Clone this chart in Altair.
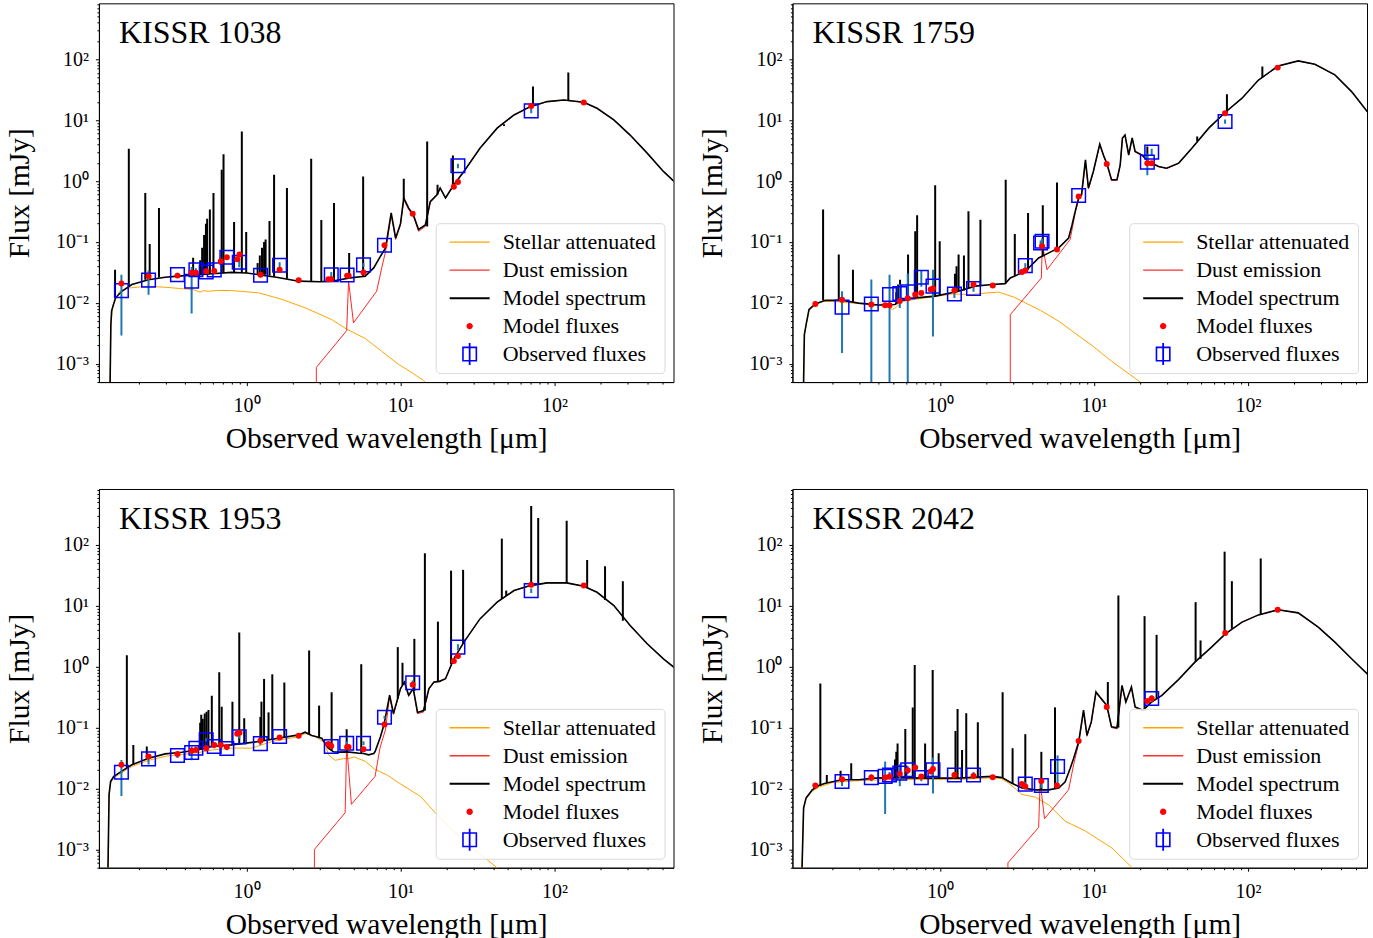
import altair as alt
import pandas as pd

FONT = "Liberation Serif"

NAMES = ["KISSR 1038", "KISSR 1759", "KISSR 1953", "KISSR 2042"]
X_TITLE = "Observed wavelength [μm]"
Y_TITLE = "Flux [mJy]"
X_DOMAIN = [0.11, 593]
Y_DOMAIN = [5e-4, 830]
MANTISSAS = [1, 2, 3, 4, 5, 6, 7, 8, 9]
X_TICKS = [round(m * 10.0 ** e, 6) for e in (-1, 0, 1, 2) for m in MANTISSAS
           if X_DOMAIN[0] <= m * 10.0 ** e <= X_DOMAIN[1]]
Y_TICKS = [round(m * 10.0 ** e, 8) for e in (-4, -3, -2, -1, 0, 1, 2) for m in MANTISSAS
           if Y_DOMAIN[0] <= m * 10.0 ** e <= Y_DOMAIN[1]]
SUPS = [(-3, "10⁻³"), (-2, "10⁻²"), (-1, "10⁻¹"), (0, "10⁰"), (1, "10¹"), (2, "10²")]

LEGEND_NAMES = ["Stellar attenuated", "Dust emission", "Model spectrum", "Model fluxes", "Observed fluxes"]
LEGEND_COLORS = ["#ffa500", "#ff3030", "#000000", "#ff0000", "#0000ff"]
LEGEND_SHAPES = [
    "M-4,-0.14H4V0.14H-4Z",
    "M-4,-0.14H4V0.14H-4Z",
    "M-4,-0.2H4V0.2H-4Z",
    "M0.64,0A0.64,0.64 0 1,1 -0.64,0A0.64,0.64 0 1,1 0.64,0Z",
    "M-1.5,-1.5H1.5V1.5H-1.5Z M-1.18,-1.18V1.18H1.18V-1.18Z M-0.18,-2.2H0.18V2.2H-0.18Z",
]

# ---------------- KISSR 1038 ----------------
P1_SPEC = [(0.130, 0.0005), (0.1315, 0.0044), (0.133, 0.0074), (0.141, 0.0121), (0.155, 0.0155),
           (0.18, 0.020), (0.231, 0.024), (0.296, 0.0263), (0.36, 0.0275), (0.488, 0.029), (0.60, 0.030),
           (0.80, 0.0317), (1.0, 0.031), (1.2, 0.029), (1.6, 0.026), (2.18, 0.0227), (3.0, 0.0222),
           (3.58, 0.0227), (4.7, 0.0257), (5.9, 0.0274), (6.7, 0.0375), (7.4, 0.058), (8.0, 0.08),
           (8.7, 0.30), (9.3, 0.116), (10.0, 0.20), (10.5, 0.526), (11.3, 0.36), (12.1, 0.28), (13.1, 0.16),
           (14.5, 0.19), (15.6, 0.46), (17.3, 0.60), (18.1, 0.77), (19.6, 0.53), (22.2, 0.87), (25.8, 1.44),
           (32.8, 3.47), (42.4, 7.4), (54.6, 12.2), (69.6, 16.7), (89.5, 20.2), (115, 21.5), (155, 19.7),
           (189, 15.7), (243, 10.1), (310, 5.7), (400, 2.88), (510, 1.44), (600, 0.98)]
P1_LINES = [(0.140, 0.012, 0.035), (0.172, 0.019, 3.4), (0.220, 0.024, 0.64), (0.235, 0.024, 0.093),
            (0.270, 0.026, 0.36), (0.450, 0.029, 0.055), (0.500, 0.029, 0.05), (0.515, 0.029, 0.08),
            (0.530, 0.030, 0.13), (0.545, 0.030, 0.20), (0.555, 0.030, 0.24), (0.578, 0.030, 0.34),
            (0.610, 0.030, 0.64), (0.690, 0.031, 1.53), (0.709, 0.031, 2.77), (0.830, 0.032, 0.213),
            (0.932, 0.031, 6.5), (0.995, 0.031, 0.146), (1.18, 0.030, 0.045), (1.22, 0.030, 0.06),
            (1.26, 0.029, 0.08), (1.30, 0.029, 0.10), (1.33, 0.029, 0.11), (1.41, 0.028, 0.22),
            (1.51, 0.027, 1.27), (1.83, 0.025, 0.77), (2.63, 0.0224, 2.32), (3.06, 0.0222, 0.23),
            (3.70, 0.023, 0.435), (4.64, 0.026, 0.066), (5.72, 0.027, 1.19), (10.5, 0.5, 1.09),
            (14.9, 0.18, 4.47), (17.4, 0.6, 0.87), (21.9, 0.85, 2.63), (47.0, 8.0, 8.6),
            (72.5, 17.0, 35.7), (123, 21.5, 60.6)]
P1_STAR = [(0.130, 0.0005), (0.1315, 0.004), (0.135, 0.009), (0.150, 0.0155), (0.170, 0.0175),
           (0.231, 0.0188), (0.300, 0.0180), (0.380, 0.0171), (0.450, 0.0165), (0.500, 0.0150),
           (0.520, 0.0158), (0.566, 0.0155), (0.650, 0.0160), (0.800, 0.0159), (1.00, 0.0152),
           (1.20, 0.0146), (1.70, 0.0114), (2.40, 0.0083), (3.58, 0.0053), (4.47, 0.0037), (5.90, 0.0026),
           (7.55, 0.0016), (9.70, 0.00098), (12.0, 0.0007), (14.1, 0.00053), (15.0, 0.00045)]
P1_DUST = [(2.84, 0.0003), (2.84, 0.00087), (4.47, 0.0035), (4.60, 0.0227), (4.95, 0.0047), (7.00, 0.0155),
           (7.55, 0.0375), (8.0, 0.07), (8.7, 0.28), (9.3, 0.11), (10.0, 0.19), (10.5, 0.50), (11.3, 0.34),
           (12.1, 0.27), (13.1, 0.15), (14.5, 0.18), (15.6, 0.45), (17.3, 0.59), (18.1, 0.76), (19.6, 0.52),
           (22.2, 0.86), (25.8, 1.42), (32.8, 3.45), (42.4, 7.35), (54.6, 12.1), (69.6, 16.6), (89.5, 20.1),
           (115, 21.4), (155, 19.6), (189, 15.6), (243, 10.0), (310, 5.65), (400, 2.86), (510, 1.43),
           (600, 0.97)]
P1_OBS = [(0.154, 0.0159, 0.013), (0.231, 0.0236, 0.010), (0.356, 0.0291, 0.002), (0.440, 0.0227, 0.016),
          (0.469, 0.0350, 0.002), (0.547, 0.0322, 0.002), (0.617, 0.0348, 0.002), (0.745, 0.0560, 0.003),
          (0.897, 0.0465, 0.008), (1.233, 0.0284, 0.002), (1.64, 0.0415, 0.005), (3.55, 0.0290, 0.003),
          (4.50, 0.0287, 0.002), (5.75, 0.0420, 0.003), (7.87, 0.0883, 0.004), (23.6, 1.78, 0.15),
          (70.6, 14.2, 1.2)]
P1_MODEL = [(0.154, 0.0207), (0.231, 0.0274), (0.356, 0.0280), (0.440, 0.0311), (0.469, 0.0311),
            (0.547, 0.0330), (0.617, 0.0335), (0.681, 0.0480), (0.745, 0.0560), (0.870, 0.0520),
            (0.900, 0.0620), (1.233, 0.0290), (1.64, 0.0350), (2.18, 0.0236), (3.40, 0.0245),
            (3.55, 0.0245), (4.50, 0.0280), (4.60, 0.0280), (5.75, 0.0315), (7.87, 0.0880), (12.0, 0.291),
            (22.2, 0.81), (23.6, 0.97), (70.6, 17.1), (155, 19.5)]

# ---------------- KISSR 1759 ----------------
P2_SPEC = [(0.130, 0.0005), (0.1315, 0.003), (0.135, 0.0044), (0.141, 0.0078), (0.155, 0.0096),
           (0.180, 0.0110), (0.231, 0.0110), (0.296, 0.0099), (0.400, 0.0092), (0.510, 0.0094),
           (0.567, 0.0114), (0.727, 0.0122), (0.932, 0.0129), (1.32, 0.0155), (1.69, 0.0188), (2.18, 0.0200),
           (2.65, 0.0207), (2.86, 0.0256), (3.58, 0.0330), (4.37, 0.0547), (4.83, 0.0620), (5.9, 0.080),
           (6.84, 0.116), (7.2, 0.19), (7.55, 0.318), (7.95, 0.53), (8.3, 0.60), (8.8, 2.23), (9.2, 0.77),
           (9.9, 1.44), (10.9, 4.04), (11.6, 2.54), (12.1, 1.97), (13.0, 1.05), (14.1, 1.05), (14.8, 1.85),
           (15.3, 5.1), (15.9, 5.7), (16.8, 2.7), (17.7, 5.1), (18.5, 3.07), (20.4, 2.7), (22.5, 2.1),
           (26.3, 1.74), (29.6, 1.63), (35.5, 1.97), (43.2, 3.47), (55.6, 7.4), (71.3, 13.5), (91.5, 23.0),
           (117, 45.7), (157, 77.6), (212, 94.0), (272, 83.0), (367, 55.4), (471, 29.5), (600, 13.5)]
P2_LINES = [(0.174, 0.011, 0.34), (0.220, 0.011, 0.062), (0.272, 0.010, 0.035), (0.520, 0.0095, 0.015),
            (0.535, 0.010, 0.020), (0.550, 0.011, 0.024), (0.620, 0.0115, 0.062), (0.690, 0.012, 0.15),
            (0.710, 0.012, 0.274), (0.930, 0.0129, 0.85), (0.995, 0.013, 0.103), (1.25, 0.015, 0.03),
            (1.28, 0.015, 0.04), (1.32, 0.0155, 0.062), (1.43, 0.016, 0.060), (1.53, 0.017, 0.318),
            (1.83, 0.019, 0.232), (2.67, 0.021, 1.05), (3.06, 0.028, 0.135), (3.73, 0.035, 0.30),
            (4.65, 0.058, 0.40), (5.75, 0.078, 0.95), (22.2, 2.1, 3.7), (46.8, 4.5, 5.4),
            (73.0, 13.5, 26.7), (124, 50.0, 76.0)]
P2_STAR = [(0.130, 0.0005), (0.1315, 0.003), (0.135, 0.0044), (0.141, 0.0075), (0.155, 0.0093),
           (0.171, 0.0105), (0.200, 0.0106), (0.300, 0.0097), (0.400, 0.0090), (0.450, 0.0088),
           (0.490, 0.0078), (0.520, 0.0085), (0.567, 0.0105), (0.700, 0.0115), (0.900, 0.0125),
           (1.20, 0.0140), (1.61, 0.0137), (2.00, 0.0145), (2.40, 0.0150), (3.00, 0.0125), (3.58, 0.0100),
           (4.50, 0.0075), (5.90, 0.0050), (7.50, 0.0032), (9.70, 0.0020), (13.0, 0.0011), (20.0, 0.0005),
           (21.0, 0.00045)]
P2_DUST = [(2.86, 0.0003), (2.86, 0.0064), (4.55, 0.0256), (4.62, 0.090), (4.95, 0.035), (7.00, 0.110),
           (7.55, 0.30), (7.95, 0.50), (8.3, 0.57), (8.8, 2.1), (9.2, 0.74), (9.9, 1.40), (10.9, 3.95),
           (11.6, 2.50), (12.1, 1.93), (13.0, 1.02), (14.1, 1.03), (14.8, 1.82), (15.3, 5.0), (15.9, 5.6),
           (16.8, 2.65), (17.7, 5.0), (18.5, 3.0), (20.4, 2.65), (22.5, 2.07), (26.3, 1.72), (29.6, 1.61),
           (35.5, 1.95), (43.2, 3.45), (55.6, 7.35), (71.3, 13.4), (91.5, 22.9), (117, 45.5), (157, 77.4),
           (212, 93.8), (272, 82.8), (367, 55.2), (471, 29.4), (600, 13.4)]
P2_OBS = [(0.231, 0.0085, 0.007), (0.358, 0.0096, 0.0146), (0.470, 0.0137, 0.0153), (0.548, 0.0142, 0.006),
          (0.617, 0.0152, 0.0150), (0.756, 0.0264, 0.008), (0.900, 0.0188, 0.0160), (1.24, 0.0140, 0.002),
          (1.65, 0.0172, 0.002), (3.58, 0.0409, 0.004), (4.50, 0.0960, 0.010), (4.60, 0.1030, 0.010),
          (7.95, 0.580, 0.03), (22.2, 2.05, 0.8), (23.7, 2.99, 0.4), (71.0, 9.5, 0.8)]
P2_MODEL = [(0.155, 0.0096), (0.231, 0.0112), (0.358, 0.0094), (0.440, 0.0091), (0.470, 0.0091),
            (0.548, 0.0107), (0.617, 0.0119), (0.690, 0.0137), (0.756, 0.0145), (0.870, 0.0165),
            (0.900, 0.0172), (1.24, 0.0160), (1.65, 0.0200), (2.20, 0.0192), (3.40, 0.0322), (3.58, 0.0340),
            (4.60, 0.085), (5.75, 0.075), (7.95, 0.56), (12.1, 1.90), (22.2, 1.97), (23.7, 1.97),
            (71.0, 13.0), (156, 73.0)]

# ---------------- KISSR 1953 ----------------
P3_SPEC = [(0.126, 0.0005), (0.128, 0.008), (0.131, 0.013), (0.137, 0.0157), (0.154, 0.0191),
           (0.180, 0.0245), (0.231, 0.0314), (0.296, 0.0370), (0.380, 0.0395), (0.488, 0.0433),
           (0.595, 0.0490), (0.800, 0.0520), (1.20, 0.0590), (1.61, 0.0670), (2.18, 0.0760), (2.40, 0.0840),
           (2.65, 0.0740), (3.08, 0.0670), (3.40, 0.0460), (3.67, 0.0400), (3.96, 0.0395), (4.50, 0.0400),
           (5.40, 0.0380), (5.77, 0.0375), (6.20, 0.0357), (6.70, 0.0375), (6.84, 0.0405), (7.40, 0.070),
           (7.80, 0.110), (8.50, 0.340), (9.00, 0.170), (10.0, 0.437), (10.6, 0.560), (11.3, 0.340),
           (12.1, 0.437), (12.9, 0.177), (14.1, 0.190), (15.3, 0.437), (16.5, 0.560), (17.9, 0.575),
           (19.6, 0.636), (22.2, 1.35), (25.8, 2.54), (32.8, 6.10), (42.4, 11.5), (54.6, 17.8), (69.6, 21.5),
           (89.5, 23.8), (120, 23.8), (155, 21.0), (189, 16.7), (243, 10.1), (310, 4.75), (400, 2.38),
           (510, 1.35), (600, 0.97)]
P3_LINES = [(0.167, 0.022, 1.55), (0.184, 0.025, 0.052), (0.225, 0.031, 0.049), (0.500, 0.043, 0.12),
            (0.508, 0.043, 0.162), (0.520, 0.044, 0.14), (0.535, 0.045, 0.17), (0.550, 0.046, 0.183),
            (0.566, 0.047, 0.195), (0.595, 0.049, 0.335), (0.665, 0.050, 0.81), (0.690, 0.050, 0.22),
            (0.810, 0.052, 0.267), (0.897, 0.053, 3.65), (0.966, 0.054, 0.142), (1.23, 0.059, 0.15),
            (1.25, 0.060, 0.267), (1.30, 0.061, 0.63), (1.39, 0.063, 0.178), (1.47, 0.065, 0.75),
            (1.76, 0.070, 0.55), (2.55, 0.078, 1.85), (2.96, 0.070, 0.23), (3.57, 0.042, 0.38),
            (4.47, 0.040, 0.094), (5.56, 0.038, 1.10), (9.6, 0.30, 2.10), (10.3, 0.50, 1.16),
            (12.3, 0.40, 2.87), (14.4, 0.19, 73.0), (17.5, 0.57, 5.5), (21.3, 1.10, 37.8), (25.5, 2.40, 39.0),
            (45.5, 13.0, 127), (48.6, 14.5, 17.8), (70.6, 21.5, 437), (78.4, 22.5, 276), (120, 23.8, 250),
            (163, 20.0, 56.6), (213, 12.5, 44.6), (278, 5.7, 25.4)]
P3_STAR = [(0.126, 0.0005), (0.128, 0.008), (0.131, 0.0125), (0.137, 0.0150), (0.154, 0.0180),
           (0.180, 0.0230), (0.231, 0.0290), (0.300, 0.0340), (0.380, 0.0360), (0.490, 0.0390),
           (0.600, 0.0430), (0.800, 0.0460), (1.08, 0.0460), (1.46, 0.0590), (2.18, 0.0710), (2.40, 0.0800),
           (2.80, 0.0720), (3.24, 0.0550), (3.40, 0.0360), (3.77, 0.0290), (4.27, 0.0310), (4.60, 0.0310),
           (5.00, 0.0330), (5.90, 0.0280), (6.84, 0.0205), (8.20, 0.0166), (9.70, 0.0125), (13.5, 0.0074),
           (17.3, 0.0037), (25.8, 0.00136), (42.4, 0.0005), (45.0, 0.00045)]
P3_DUST = [(2.76, 0.0003), (2.76, 0.0010), (4.37, 0.0040), (4.47, 0.0520), (4.80, 0.0055), (6.84, 0.0158),
           (7.35, 0.046), (8.00, 0.094), (8.50, 0.33), (9.00, 0.165), (10.0, 0.43), (10.6, 0.55), (11.3, 0.33),
           (12.1, 0.43), (12.9, 0.17), (14.1, 0.18), (15.3, 0.43), (16.5, 0.55), (17.9, 0.57), (19.6, 0.63),
           (22.2, 1.34), (25.8, 2.53), (32.8, 6.08), (42.4, 11.5), (54.6, 17.8), (69.6, 21.5), (89.5, 23.8),
           (120, 23.8), (155, 21.0), (189, 16.7), (243, 10.1), (310, 4.75), (400, 2.38), (510, 1.35),
           (600, 0.97)]
P3_OBS = [(0.154, 0.0185, 0.011), (0.231, 0.0307, 0.006), (0.356, 0.0348, 0.003), (0.440, 0.0390, 0.010),
          (0.469, 0.0458, 0.003), (0.547, 0.0630, 0.004), (0.617, 0.0489, 0.003), (0.745, 0.0455, 0.003),
          (0.897, 0.0705, 0.004), (1.23, 0.0545, 0.003), (1.64, 0.0716, 0.004), (3.55, 0.0489, 0.004),
          (4.47, 0.0555, 0.004), (5.75, 0.0555, 0.004), (7.87, 0.148, 0.008), (12.0, 0.547, 0.05),
          (23.6, 2.10, 0.25), (70.6, 17.8, 1.5)]
P3_MODEL = [(0.154, 0.0245), (0.231, 0.0335), (0.356, 0.0370), (0.440, 0.0418), (0.469, 0.0430),
            (0.547, 0.0458), (0.617, 0.0520), (0.680, 0.0520), (0.745, 0.0480), (0.870, 0.0790),
            (0.900, 0.0820), (1.23, 0.0607), (1.64, 0.0690), (2.18, 0.0734), (3.40, 0.0540), (3.55, 0.0500),
            (4.50, 0.0480), (4.60, 0.0480), (5.75, 0.0440), (7.87, 0.113), (12.0, 0.507), (22.2, 1.24),
            (23.6, 1.50), (70.6, 22.3), (155, 21.5)]

# ---------------- KISSR 2042 ----------------
P4_SPEC = [(0.127, 0.0005), (0.130, 0.0048), (0.135, 0.0070), (0.148, 0.0095), (0.163, 0.0112),
           (0.180, 0.0122), (0.231, 0.0139), (0.296, 0.0139), (0.380, 0.0148), (0.490, 0.0151),
           (0.800, 0.0148), (1.32, 0.0148), (2.18, 0.0158), (2.53, 0.0151), (2.93, 0.0122), (3.40, 0.0102),
           (4.16, 0.0095), (5.07, 0.0095), (5.90, 0.0102), (6.50, 0.0129), (7.00, 0.0213), (7.37, 0.031),
           (7.95, 0.058), (8.55, 0.193), (9.00, 0.075), (9.60, 0.124), (10.3, 0.385), (10.9, 0.320),
           (12.1, 0.232), (13.0, 0.103), (14.1, 0.099), (15.2, 0.494), (16.1, 0.264), (17.5, 0.465),
           (18.5, 0.218), (20.8, 0.193), (23.7, 0.264), (27.6, 0.338), (35.5, 0.620), (45.2, 1.19),
           (58.0, 2.10), (71.3, 3.47), (91.5, 5.40), (117, 7.10), (157, 8.60), (212, 7.67), (286, 4.46),
           (367, 2.54), (471, 1.35), (600, 0.75)]
P4_LINES = [(0.167, 0.011, 0.53), (0.184, 0.0122, 0.0167), (0.226, 0.0138, 0.0195), (0.265, 0.0139, 0.026),
            (0.510, 0.015, 0.030), (0.520, 0.015, 0.040), (0.530, 0.015, 0.055), (0.595, 0.015, 0.095),
            (0.665, 0.015, 0.213), (0.685, 0.015, 1.07), (0.800, 0.0148, 0.055), (0.896, 0.0148, 0.88),
            (0.980, 0.0148, 0.038), (1.26, 0.0148, 0.088), (1.30, 0.0148, 0.203), (1.39, 0.015, 0.043),
            (1.48, 0.015, 0.172), (1.76, 0.0153, 0.122), (2.55, 0.015, 0.38), (2.96, 0.012, 0.046),
            (3.58, 0.010, 0.078), (4.55, 0.0095, 0.040), (5.58, 0.0098, 0.215), (12.3, 0.22, 0.56),
            (14.4, 0.10, 14.8), (21.3, 0.19, 6.77), (25.5, 0.30, 3.34), (45.7, 1.20, 11.5), (49.2, 1.35, 2.7),
            (70.5, 3.45, 77.6), (78.6, 4.2, 25.4), (121, 7.2, 60.0)]
P4_STAR = [(0.127, 0.0005), (0.130, 0.0045), (0.135, 0.0068), (0.148, 0.0090), (0.163, 0.0105),
           (0.200, 0.0125), (0.300, 0.0135), (0.500, 0.0140), (0.800, 0.0140), (1.30, 0.0140), (2.20, 0.0150),
           (2.50, 0.0145), (2.80, 0.0122), (3.40, 0.0080), (4.16, 0.0072), (5.07, 0.0054), (5.90, 0.0037),
           (6.50, 0.0029), (8.80, 0.0020), (13.1, 0.00105), (17.7, 0.0005), (18.5, 0.00045)]
P4_DUST = [(2.76, 0.0003), (2.76, 0.0006), (4.37, 0.0023), (4.47, 0.0130), (4.77, 0.0032), (6.84, 0.0095),
           (7.37, 0.0245), (7.95, 0.055), (8.55, 0.185), (9.00, 0.072), (9.60, 0.120), (10.3, 0.375),
           (10.9, 0.310), (12.1, 0.225), (13.0, 0.100), (14.1, 0.096), (15.2, 0.480), (16.1, 0.260),
           (17.5, 0.455), (18.5, 0.214), (20.8, 0.190), (23.7, 0.260), (27.6, 0.335), (35.5, 0.615),
           (45.2, 1.18), (58.0, 2.09), (71.3, 3.46), (91.5, 5.39), (117, 7.09), (157, 8.59), (212, 7.66),
           (286, 4.45), (367, 2.53), (471, 1.35), (600, 0.75)]
P4_OBS = [(0.231, 0.0130, 0.002), (0.358, 0.0151, 0.002), (0.440, 0.0158, 0.012), (0.470, 0.0167, 0.002),
          (0.548, 0.0179, 0.007), (0.617, 0.0203, 0.003), (0.756, 0.0151, 0.002), (0.900, 0.0203, 0.012),
          (1.24, 0.0167, 0.002), (1.65, 0.0167, 0.002), (3.58, 0.0118, 0.001), (4.55, 0.0112, 0.001),
          (5.80, 0.0230, 0.012), (23.7, 0.300, 0.04)]
P4_MODEL = [(0.155, 0.0112), (0.231, 0.0142), (0.358, 0.0151), (0.440, 0.0151), (0.470, 0.0158),
            (0.548, 0.0175), (0.617, 0.0200), (0.690, 0.0222), (0.756, 0.0158), (0.870, 0.0190),
            (0.900, 0.0210), (1.24, 0.0167), (1.65, 0.0160), (2.20, 0.0153), (3.40, 0.0118), (3.58, 0.0108),
            (4.55, 0.0133), (5.75, 0.0112), (7.95, 0.060), (12.1, 0.218), (22.2, 0.274), (23.7, 0.300),
            (71.2, 3.57), (156, 8.60)]

PANELS = [
    (NAMES[0], P1_SPEC, P1_LINES, P1_STAR, P1_DUST, P1_OBS, P1_MODEL),
    (NAMES[1], P2_SPEC, P2_LINES, P2_STAR, P2_DUST, P2_OBS, P2_MODEL),
    (NAMES[2], P3_SPEC, P3_LINES, P3_STAR, P3_DUST, P3_OBS, P3_MODEL),
    (NAMES[3], P4_SPEC, P4_LINES, P4_STAR, P4_DUST, P4_OBS, P4_MODEL),
]

EXP = "round(log(datum.value)/LN10)"
MAJOR = f"abs(log(datum.value)/LN10 - {EXP}) < 0.01"
_inner = "''"
for _e, _s in reversed(SUPS):
    _inner = f"({EXP} == {_e} ? '{_s}' : {_inner})"
LABEL_EXPR = f"({MAJOR}) ? {_inner} : ''"
TICK_SIZE = {"condition": {"test": MAJOR, "value": 3.5}, "value": 2}
LABEL_SIZE = {"condition": {"test": MAJOR, "value": 20}, "value": 0}


def frame(rows, cols):
    df = pd.DataFrame(rows, columns=cols)
    df["i"] = range(len(df))
    return df


def panel(name, spec, lines, star, dust, obs, model):
    xs = alt.Scale(type="log", domain=X_DOMAIN, nice=False)
    ys = alt.Scale(type="log", domain=Y_DOMAIN, nice=False)
    xa = alt.Axis(title=X_TITLE, values=X_TICKS, labelExpr=LABEL_EXPR, tickSize=TICK_SIZE, grid=False,
                  labelFontSize=LABEL_SIZE, labelPadding=10, titlePadding=9, labelOverlap=False,
                  labelFlush=False)
    ya = alt.Axis(title=Y_TITLE, values=Y_TICKS, labelExpr=LABEL_EXPR, tickSize=TICK_SIZE, grid=False,
                  labelFontSize=LABEL_SIZE, labelPadding=7, titlePadding=21, labelOverlap=False,
                  labelFlush=False)

    def X(f):
        return alt.X(f"{f}:Q", scale=xs, axis=xa)

    def Y(f):
        return alt.Y(f"{f}:Q", scale=ys, axis=ya)

    star_l = alt.Chart(frame(star, ["lam", "f"])).mark_line(
        color="#ffa500", strokeWidth=1, clip=True).encode(x=X("lam"), y=Y("f"), order="i:Q")
    dust_l = alt.Chart(frame(dust, ["lam", "f"])).mark_line(
        color="#ff0000", strokeWidth=1, opacity=0.85, clip=True).encode(x=X("lam"), y=Y("f"), order="i:Q")
    spec_l = alt.Chart(frame(spec, ["lam", "f"])).mark_line(
        color="black", strokeWidth=1.6, clip=True).encode(x=X("lam"), y=Y("f"), order="i:Q")
    spikes = alt.Chart(frame(lines, ["lam", "base", "peak"])).mark_rule(
        color="black", strokeWidth=2, clip=True).encode(x=X("lam"), y=Y("base"), y2="peak:Q")
    odf = frame(obs, ["lam", "f", "err"])
    odf["lo"] = (odf["f"] - odf["err"]).clip(lower=1e-6)
    odf["hi"] = odf["f"] + odf["err"]
    errs = alt.Chart(odf).mark_rule(color="#1f77b4", strokeWidth=2, clip=True).encode(
        x=X("lam"), y=Y("lo"), y2="hi:Q")
    squares = alt.Chart(odf).mark_point(shape="square", size=185, filled=False, color="#0000ff",
                                        strokeWidth=1.5, opacity=1, clip=True).encode(x=X("lam"), y=Y("f"))
    dots = alt.Chart(frame(model, ["lam", "f"])).mark_circle(
        color="#ff0000", size=36, opacity=1, clip=True).encode(x=X("lam"), y=Y("f"))

    legend = alt.Legend(title=None, orient="bottom-right", offset=9, padding=8, symbolSize=100,
                        symbolOffset=15, labelOffset=22, rowPadding=6, symbolStrokeWidth=0,
                        labelLimit=400, fillColor="rgba(255,255,255,0.85)", strokeColor="#d9d9d9",
                        cornerRadius=4, labelFont=FONT, labelFontSize=22, labelColor="black",
                        symbolOpacity=1)
    leg_df = pd.DataFrame({"series": LEGEND_NAMES, "lam": [1e5] * 5, "f": [1.0] * 5})
    leg = alt.Chart(leg_df).mark_point(filled=True, size=100, opacity=1, clip=True).encode(
        x=X("lam"), y=Y("f"),
        color=alt.Color("series:N", scale=alt.Scale(domain=LEGEND_NAMES, range=LEGEND_COLORS), legend=legend),
        shape=alt.Shape("series:N", scale=alt.Scale(domain=LEGEND_NAMES, range=LEGEND_SHAPES), legend=legend),
    )
    title = alt.Chart(pd.DataFrame({"t": [name]})).mark_text(
        align="left", baseline="alphabetic", font=FONT, fontSize=32, color="black"
    ).encode(x=alt.value(20), y=alt.value(40), text="t:N")

    return alt.layer(star_l, dust_l, spec_l, spikes, errs, squares, dots, leg, title).properties(
        width=575, height=379)


charts = [panel(*p) for p in PANELS]
chart = alt.concat(*charts, columns=2, spacing={"row": 34, "column": 23}).resolve_scale(
    color="independent", shape="independent"
).properties(
    padding={"left": 4, "top": 2, "right": 5, "bottom": 5}, background="white"
).configure_view(stroke="black", strokeWidth=1).configure_axis(
    domainColor="black", domainWidth=1, tickColor="black", tickWidth=1, labelFont=FONT,
    labelColor="black", titleFont=FONT, titleFontSize=29.5, titleFontWeight="normal", titleColor="black"
)

chart.save("out.html", embed_options={"renderer": "svg", "actions": False})
